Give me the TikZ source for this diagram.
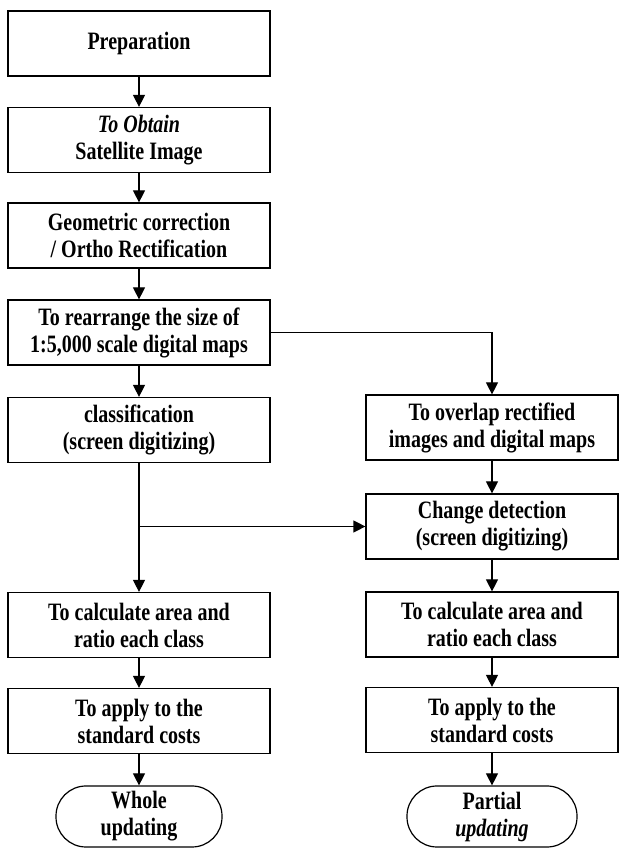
\documentclass[tikz,border=0pt]{standalone}
\usepackage{fontspec}
\setmainfont{Liberation Serif}[FakeStretch=0.8]
\newfontfamily\bfitfont{Liberation Serif Bold Italic}[FakeStretch=0.8]
\usetikzlibrary{arrows.meta, positioning, calc}

\begin{document}
\begin{tikzpicture}[x=1pt, y=1pt,
  stage/.style={draw, line width=1.2pt, minimum width=262pt, minimum height=65pt, align=center, inner sep=2pt, font=\fontsize{25}{27}\selectfont\bfseries},
  wide/.style={minimum width=252pt},
  terminal/.style={draw, line width=1.2pt, rounded corners=30pt, minimum width=166pt, minimum height=61pt, align=center, inner sep=2pt, font=\fontsize{25}{27}\selectfont\bfseries},
  arrow/.style={-{Triangle[length=12pt, width=12pt]}, line width=1.2pt}]
  \useasboundingbox (0,0) rectangle (620,848);

  % left column
  \node[stage] (prep) at (139,804.5) {Preparation};
  \node[stage] (obtain) at (139,708) {{\bfitfont To Obtain}\\Satellite Image};
  \node[stage] (geo) at (139,612.5) {Geometric correction\\/ Ortho Rectification};
  \node[stage] (resize) at (139,515.5) {To rearrange the size of\\1:5,000 scale digital maps};
  \node[stage] (classif) at (139,418) {classification\\(screen digitizing)};
  \node[stage] (calcL) at (139,223) {To calculate area and\\ratio each class};
  \node[stage] (applyL) at (139,127) {To apply to the\\standard costs};
  \node[terminal] (whole) at (139,31.5) {Whole\\updating};

  % right column
  \node[stage, wide] (overlap) at (492,420.5) {To overlap rectified\\images and digital maps};
  \node[stage, wide] (change) at (492,321.5) {Change detection\\(screen digitizing)};
  \node[stage, wide] (calcR) at (492,223.5) {To calculate area and\\ratio each class};
  \node[stage, wide] (applyR) at (492,128) {To apply to the\\standard costs};
  \node[terminal, minimum width=170pt] (partial) at (492,31.5) {Partial\\{\bfitfont updating}};

  \draw[arrow] (prep) -- (obtain);
  \draw[arrow] (obtain) -- (geo);
  \draw[arrow] (geo) -- (resize);
  \draw[arrow] (resize) -- (classif);
  \draw[arrow] (resize.east) -| (overlap.north);
  \draw[arrow] (classif) -- (calcL);
  \coordinate (split) at (classif.south |- change.west);
  \draw[arrow] (split) -- (change.west);
  \draw[arrow] (calcL) -- (applyL);
  \draw[arrow] (applyL) -- (whole);

  \draw[arrow] (overlap) -- (change);
  \draw[arrow] (change) -- (calcR);
  \draw[arrow] (calcR) -- (applyR);
  \draw[arrow] (applyR) -- (partial);
\end{tikzpicture}
\end{document}
